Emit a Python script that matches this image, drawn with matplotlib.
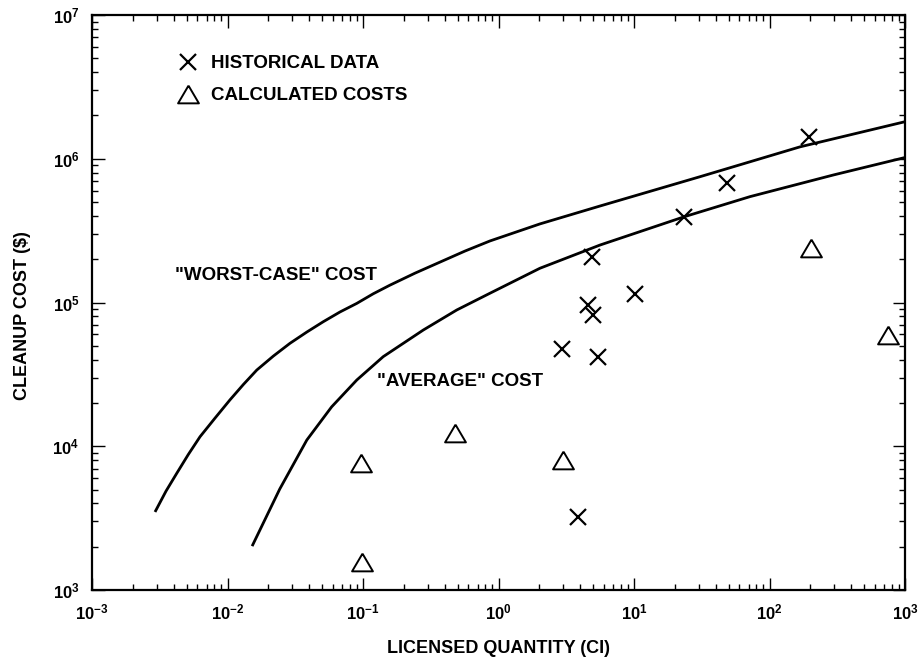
import matplotlib
matplotlib.use("Agg")
import matplotlib.pyplot as plt
from matplotlib.ticker import LogLocator, FixedLocator, FixedFormatter, NullFormatter

plt.rcParams["font.family"] = ["Liberation Sans", "DejaVu Sans"]
plt.rcParams["font.weight"] = "bold"
plt.rcParams["mathtext.fontset"] = "custom"
plt.rcParams["mathtext.rm"] = "Liberation Sans:bold"
plt.rcParams["mathtext.bf"] = "Liberation Sans:bold"
plt.rcParams["mathtext.default"] = "bf"

# historical data (X marks)
hist_x = [3.86, 2.94, 5.42, 4.58, 4.98, 4.90, 10.2, 23.4, 48.5, 196]
hist_y = [3220, 47500, 41800, 96100, 81900, 207000, 115000, 393000, 678000, 1.42e6]

# calculated costs (triangles)
calc_x = [0.097, 0.098, 0.478, 2.99, 202, 750]
calc_y = [7650, 1565, 12400, 8020, 239000, 59400]

# "worst-case" cost curve
worst_x = [0.00295, 0.00352, 0.00422, 0.00514, 0.00627, 0.00809, 0.01042, 0.0131,
           0.01645, 0.0218, 0.0289, 0.0385, 0.0509, 0.0676, 0.090, 0.119,
           0.158, 0.242, 0.370, 0.566, 0.865, 2.02, 5.61, 30.7, 168, 1000]
worst_y = [3560, 4880, 6480, 8770, 11650, 15700, 21000, 26900,
           33900, 42400, 52000, 62300, 73500, 85900, 98600, 115000,
           132000, 160000, 191000, 228000, 268000, 352000, 469000, 750000, 1.21e6, 1.81e6]

# "average" cost curve
avg_x = [0.01535, 0.0243, 0.0385, 0.0587, 0.090, 0.141, 0.279, 0.492, 0.865,
         2.02, 5.61, 23.5, 71.8, 296, 1000]
avg_y = [2060, 5040, 11050, 18800, 28900, 42000, 64400, 88700, 116000,
         173000, 251000, 395000, 545000, 771000, 1.02e6]

xtick_vals = [1e-3, 1e-2, 1e-1, 1e0, 1e1, 1e2, 1e3]
xtick_labels = ["10$^{-3}$", "10$^{-2}$", "10$^{-1}$", "10$^{0}$", "10$^{1}$", "10$^{2}$", "10$^{3}$"]
ytick_vals = [1e3, 1e4, 1e5, 1e6, 1e7]
ytick_labels = ["10$^{3}$", "10$^{4}$", "10$^{5}$", "10$^{6}$", "10$^{7}$"]

W, H = 923, 668
fig = plt.figure(figsize=(W / 100, H / 100), dpi=100)
ax = fig.add_axes([92 / W, (H - 590) / H, 813 / W, 575 / H])

ax.set_xscale("log")
ax.set_yscale("log")
ax.set_xlim(1e-3, 1e3)
ax.set_ylim(1e3, 1e7)

ax.plot(worst_x, worst_y, color="black", lw=2.0, solid_joinstyle="round")
ax.plot(avg_x, avg_y, color="black", lw=2.0, solid_joinstyle="round")

tri = [(0, 0.85), (-1, -0.85), (1, -0.85), (0, 0.85)]
h1, = ax.plot(hist_x, hist_y, ls="none", marker="x", ms=11, mew=1.6,
              color="black", label="HISTORICAL DATA")
h2, = ax.plot(calc_x, calc_y, ls="none", marker=tri, ms=15, mew=1.4,
              mfc="none", mec="black", label="CALCULATED COSTS")

ax.text(0.0041, 155000, '"WORST-CASE" COST', ha="left", va="center",
        fontsize=13.5, fontweight="bold")
ax.text(0.127, 28000, '"AVERAGE" COST', ha="left", va="center",
        fontsize=13.5, fontweight="bold")

leg = ax.legend(handles=[h1, h2], loc="upper left", bbox_to_anchor=(0.106, 0.930),
                frameon=False, fontsize=13.5, handlelength=1.0, handletextpad=0.75,
                labelspacing=0.8, borderpad=0, borderaxespad=0)
for t in leg.get_texts():
    t.set_fontweight("bold")

ax.xaxis.set_major_locator(FixedLocator(xtick_vals))
ax.xaxis.set_major_formatter(FixedFormatter(xtick_labels))
ax.yaxis.set_major_locator(FixedLocator(ytick_vals))
ax.yaxis.set_major_formatter(FixedFormatter(ytick_labels))
ax.xaxis.set_minor_locator(LogLocator(base=10, subs=range(2, 10), numticks=20))
ax.yaxis.set_minor_locator(LogLocator(base=10, subs=range(2, 10), numticks=20))
ax.xaxis.set_minor_formatter(NullFormatter())
ax.yaxis.set_minor_formatter(NullFormatter())

ax.tick_params(which="both", direction="in", top=True, right=True, width=1.0)
ax.tick_params(which="major", length=9, labelsize=12, pad=9)
ax.tick_params(which="minor", length=4)
for lab in ax.get_xticklabels() + ax.get_yticklabels():
    lab.set_fontweight("bold")
for sp in ax.spines.values():
    sp.set_linewidth(1.6)

ax.set_xlabel("LICENSED QUANTITY (CI)", fontsize=13, fontweight="bold", labelpad=13)
ax.set_ylabel(r"CLEANUP COST (\$)", fontsize=13, fontweight="bold")
ax.yaxis.set_label_coords(-0.075, 0.478)

fig.savefig("out.png", dpi=100)
